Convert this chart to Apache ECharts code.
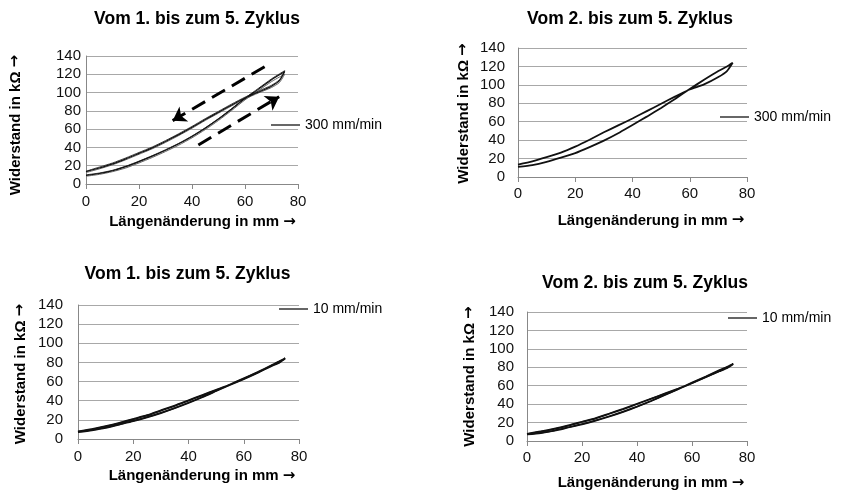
<!DOCTYPE html>
<html><head><meta charset="utf-8">
<script src="https://cdn.jsdelivr.net/npm/echarts@6/dist/echarts.min.js"></script>
<style>html,body{margin:0;padding:0;background:#fff}#c{width:844px;height:493px}</style>
</head><body><div id="c"></div>
<script>
// ---------- data ----------
const titles = ['Vom 1. bis zum 5. Zyklus', 'Vom 2. bis zum 5. Zyklus', 'Vom 1. bis zum 5. Zyklus', 'Vom 2. bis zum 5. Zyklus'];
const speeds = ['300 mm/min', '300 mm/min', '10 mm/min', '10 mm/min'];
const xTitle = 'Längenänderung in mm →';
const yTitle = 'Widerstand in kΩ →';
const xTicks = [0, 20, 40, 60, 80];
const yTicks = [0, 20, 40, 60, 80, 100, 120, 140];

const loadX = [0, 5, 10, 15, 20, 25, 30, 35, 40, 45, 50, 55, 60, 65, 70, 73, 75];
const unloadX = [75, 73, 70, 65, 60, 55, 50, 45, 40, 35, 30, 25, 20, 15, 10, 5, 0];

// panel 1: 300 mm/min, cycles 1-5
const p1LoadA = [9.5, 11.5, 14.5, 19, 24.5, 30.5, 37, 44, 52, 61, 71, 82, 93.5, 103.5, 114, 119.5, 123];
const p1UnloadA = [123, 113, 107, 100.5, 94, 86.5, 78.5, 70.5, 62, 54, 46.5, 39.5, 33.5, 27.5, 22, 17.5, 13.5];
const p1LoadB = [8.5, 10.5, 13.5, 17.5, 23, 29, 35.5, 42.5, 50.5, 59.5, 69.5, 80.5, 92, 102, 112, 117, 120];
const p1UnloadB = [120, 111, 105.5, 99.5, 93, 85.5, 77.5, 69.5, 61, 53, 45.5, 38.5, 32.5, 26.5, 21, 16.5, 12.5];
const p1LoadC = [10, 12, 15, 19.5, 25, 31, 37.5, 44.5, 52.5, 61.5, 71.5, 82.5, 94, 104.5, 115, 120.5, 124];
const p1UnloadC = [124, 114, 108, 101.5, 95, 87.5, 79.5, 71.5, 63, 55, 47.5, 40.5, 34.5, 28.5, 23, 18.5, 14];

// panel 2: 300 mm/min, cycles 2-5
const p2Load = [11, 13, 16.5, 21, 26, 32.5, 39.5, 47.5, 56.5, 65.5, 75, 85, 95.5, 105.5, 115, 120, 124];
const p2Unload = [124, 115, 108.5, 100.5, 95, 87.5, 79.5, 71.5, 63.5, 56, 48.5, 40.5, 33, 26.5, 21.5, 17, 13.5];

// panel 3: 10 mm/min, cycles 1-5
const p3LoadA = [7.5, 9.5, 12, 15.5, 19, 23, 27.5, 32.5, 38, 44, 50.5, 57, 63.5, 70, 77, 81.5, 84.5];
const p3UnloadA = [84.5, 80.5, 76.5, 69.5, 63, 57, 51.5, 46, 40.5, 35, 30, 25, 21, 17, 13.5, 10.5, 8];
const p3LoadB = [7, 9, 11.5, 15, 18.5, 22.5, 27, 32, 37.5, 43.5, 50, 56.5, 63, 69.5, 76.5, 81, 84];
const p3UnloadB = [84, 80, 76, 69, 62.5, 56.5, 51, 45.5, 40, 34.5, 29.5, 24.5, 20.5, 16.5, 13, 10, 7.5];

// panel 4: 10 mm/min, cycles 2-5
const p4LoadA = [7.5, 9, 11.5, 15, 18.5, 22.5, 27, 32, 37.5, 43.5, 50, 56.5, 63.5, 70, 77, 81, 84];
const p4UnloadA = [84, 80, 76, 69.5, 63, 57, 51.5, 46, 40.5, 35, 30, 25, 21, 17, 13.5, 10.5, 8];
const p4LoadB = [7, 8.5, 11, 14.5, 18, 22, 26.5, 31.5, 37, 43, 49.5, 56, 63, 69.5, 76.5, 80.5, 83.5];
const p4UnloadB = [83.5, 79.5, 75.5, 69, 62.5, 56.5, 51, 45.5, 40, 34.5, 29.5, 24.5, 20.5, 16.5, 13, 10, 7.5];

// direction arrows in panel 1 (data coordinates)
const arrowDownFrom = [67.4, 128.3];
const arrowDownTo = [32.7, 69.3];
const arrowUpFrom = [42.4, 42.7];
const arrowUpTo = [72.9, 95.5];

// ---------- layout ----------
const FONT = '"Liberation Sans", Arial, sans-serif';
const layout = [
  { grid: {left: 86, top: 56, width: 212, height: 128}, title: [197, 10.3], legend: [271, 118],
    xm: 10.5, ym: 5, xg: 30.5, xpad: 21, yg: 63, ypad: [0, 10, 0, 0] },
  { grid: {left: 518, top: 48, width: 229, height: 129}, title: [630, 10.3], legend: [720, 110],
    xm: 9, ym: 13, xg: 36, xpad: 37, yg: 47, ypad: [0, 2, 0, 0] },
  { grid: {left: 78, top: 305, width: 221, height: 134}, title: [187.5, 265.3], legend: [279, 302],
    xm: 10.5, ym: 15, xg: 29.5, xpad: 27, yg: 50, ypad: [0, 4, 0, 0] },
  { grid: {left: 527, top: 312, width: 220, height: 129}, title: [645, 274.3], legend: [728, 311],
    xm: 9.5, ym: 13, xg: 34.5, xpad: 28, yg: 50, ypad: [0, 0, 0, 0] }
];

function pairs(xs, ys) { return xs.map((x, i) => [x, ys[i]]); }
function loop(l, u) { return pairs(loadX, l).concat(pairs(unloadX, u).slice(1)); }
function richArrow(s) { return s.replace('→', '{a|→}'); }
const arrowRich = {a: {fontFamily: '"DejaVu Sans"', fontSize: 15, color: '#000'}};

const panelLoops = [
  [[loop(p1LoadB, p1UnloadB), '#666', 1], [loop(p1LoadC, p1UnloadC), '#444', 1], [loop(p1LoadA, p1UnloadA), '#111', 1.2]],
  [[loop(p2Load, p2Unload), '#111', 1.8]],
  [[loop(p3LoadB, p3UnloadB), '#111', 1.6], [loop(p3LoadA, p3UnloadA), '#111', 1.6]],
  [[loop(p4LoadB, p4UnloadB), '#111', 1.5], [loop(p4LoadA, p4UnloadA), '#111', 1.5]]
];

const option = {
  animation: false,
  backgroundColor: '#fff',
  textStyle: {fontFamily: FONT},
  title: layout.map((L, i) => ({
    text: titles[i], left: L.title[0], top: L.title[1], textAlign: 'center', padding: 0,
    textStyle: {fontFamily: FONT, fontSize: 17.5, fontWeight: 'bold', color: '#000'}
  })),
  legend: layout.map((L, i) => ({
    data: [speeds[i]], left: L.legend[0], top: L.legend[1], padding: 0, orient: 'horizontal',
    icon: 'rect', itemWidth: 29, itemHeight: 1.2, selectedMode: false,
    textStyle: {fontFamily: FONT, fontSize: 14, color: '#000'}
  })),
  grid: layout.map(L => Object.assign({outerBoundsMode: 'none', containLabel: false}, L.grid)),
  xAxis: layout.map((L, i) => ({
    type: 'value', gridIndex: i, min: xTicks[0], max: xTicks[xTicks.length - 1], interval: xTicks[1] - xTicks[0],
    name: richArrow(xTitle), nameLocation: 'middle', nameGap: L.xg,
    nameTextStyle: {fontFamily: FONT, fontSize: 15, fontWeight: 'bold', color: '#000', padding: [0, 0, 0, L.xpad], rich: arrowRich},
    axisLine: {show: true, onZero: false, lineStyle: {color: '#888', width: 1}},
    axisTick: {show: true, length: 5, inside: false, lineStyle: {color: '#888'}},
    axisLabel: {margin: L.xm, fontFamily: FONT, fontSize: 15, color: '#111'},
    splitLine: {show: false}
  })),
  yAxis: layout.map((L, i) => ({
    type: 'value', gridIndex: i, min: yTicks[0], max: yTicks[yTicks.length - 1], interval: yTicks[1] - yTicks[0],
    name: richArrow(yTitle), nameLocation: 'middle', nameGap: L.yg, nameRotate: 90,
    nameTextStyle: {fontFamily: FONT, fontSize: 15, fontWeight: 'bold', color: '#000', padding: L.ypad, rich: arrowRich},
    axisLine: {show: true, lineStyle: {color: '#888', width: 1}},
    axisTick: {show: false},
    axisLabel: {margin: L.ym, fontFamily: FONT, fontSize: 15, color: '#111'},
    splitLine: {show: true, lineStyle: {color: '#a8a8a8', width: 1}}
  })),
  series: []
};

panelLoops.forEach((loops, i) => {
  loops.forEach((lp, k) => {
    const isLast = k === loops.length - 1;
    const s = {
      type: 'line', xAxisIndex: i, yAxisIndex: i,
      name: isLast ? speeds[i] : 'cycle' + i + '_' + k,
      data: lp[0], symbol: 'none', showSymbol: false, smooth: 0.2, silent: true,
      lineStyle: {color: lp[1], width: lp[2]}, itemStyle: {color: '#000'}, z: 2 + k
    };
    if (i === 0 && isLast) {
      s.markLine = {
        silent: true, symbol: ['none', 'arrow'], symbolSize: 13, label: {show: false},
        lineStyle: {type: [15, 8], width: 3, color: '#000'},
        emphasis: {disabled: true},
        data: [
          [{coord: arrowDownFrom}, {coord: arrowDownTo}],
          [{coord: arrowUpFrom}, {coord: arrowUpTo}]
        ]
      };
    }
    option.series.push(s);
  });
});

const chart = echarts.init(document.getElementById('c'), null, {renderer: 'canvas'});
chart.setOption(option);
</script>
</body></html>
